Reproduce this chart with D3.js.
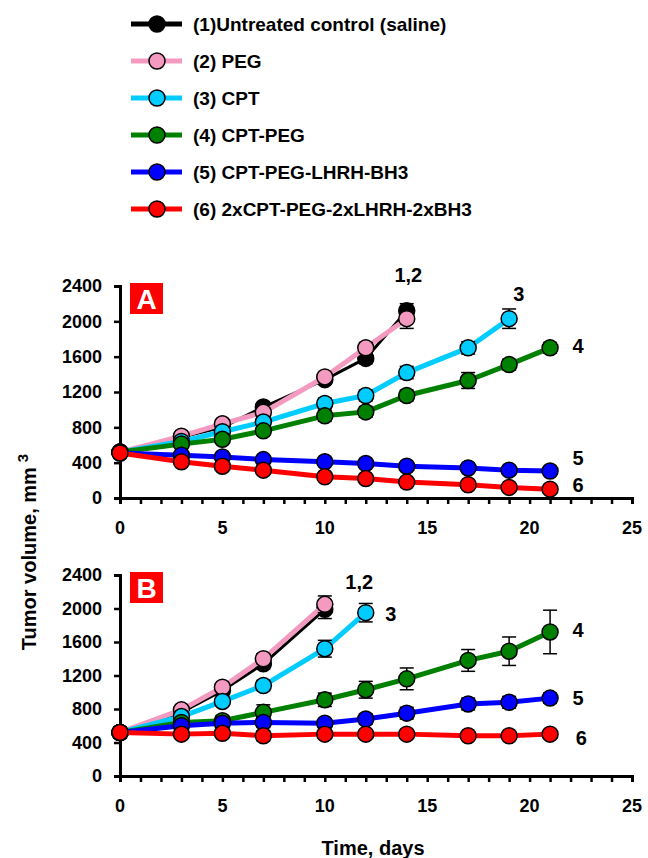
<!DOCTYPE html>
<html>
<head>
<meta charset="utf-8">
<script src="https://cdn.jsdelivr.net/npm/d3@7"></script>
<style>
  body { margin: 0; background: #fff; }
  svg text { font-family: "Liberation Sans", Arial, sans-serif; font-weight: bold; }
</style>
</head>
<body>
<svg id="chart" width="648" height="858"></svg>
<script>
// group names and colours
const groupNames = [
  "(1)Untreated control (saline)",
  "(2) PEG",
  "(3) CPT",
  "(4) CPT-PEG",
  "(5) CPT-PEG-LHRH-BH3",
  "(6) 2xCPT-PEG-2xLHRH-2xBH3"
];
const groupColors = ["#000000", "#f49ac1", "#00ccff", "#008000", "#0000ff", "#ff0000"];
const days = [0, 3, 5, 7, 10, 12, 14, 17, 19, 21];

// panel A values (mm3) and errors
const aValues = [
  [520, 690, 800, 1030, 1340, 1580, 2120],
  [520, 700, 840, 970, 1370, 1700, 2030],
  [520, 640, 750, 860, 1070, 1160, 1420, 1700, 2030],
  [520, 610, 665, 760, 930, 975, 1160, 1330, 1510, 1700],
  [510, 485, 465, 435, 410, 390, 360, 340, 315, 305],
  [510, 410, 360, 315, 240, 220, 180, 150, 120, 100]
];
const aErrors = [
  [30, 40, 40, 50, 50, 60, 80],
  [30, 40, 40, 50, 50, 60, 110],
  [30, 40, 40, 50, 60, 60, 70, 70, 110],
  [30, 40, 40, 50, 60, 60, 60, 90, 60, 60],
  [30, 30, 30, 30, 30, 30, 30, 30, 30, 30],
  [30, 30, 30, 30, 30, 30, 30, 30, 30, 30]
];

// panel B values (mm3) and errors
const bValues = [
  [520, 760, 1020, 1340, 1990],
  [520, 790, 1060, 1400, 2050],
  [520, 710, 890, 1080, 1520, 1950],
  [520, 640, 660, 760, 910, 1030, 1160, 1380, 1490, 1720],
  [520, 600, 630, 640, 630, 680, 750, 860, 880, 930],
  [520, 500, 510, 480, 500, 500, 500, 480, 480, 500]
];
const bErrors = [
  [60, 50, 50, 60, 110],
  [60, 50, 50, 60, 100],
  [60, 50, 50, 60, 100, 110],
  [60, 50, 60, 90, 80, 100, 130, 130, 170, 260],
  [60, 50, 50, 60, 50, 60, 70, 70, 70, 60],
  [60, 50, 50, 60, 50, 50, 50, 40, 40, 50]
];

const yTicks = [0, 400, 800, 1200, 1600, 2000, 2400];
const xTicks = [0, 5, 10, 15, 20, 25];

// end labels: [text, day, value]
const aLabels = [["1,2", 13.4, 2520], ["3", 19.2, 2310], ["4", 22.1, 1724], ["5", 22.1, 450], ["6", 22.1, 147]];
const bLabels = [["1,2", 11.0, 2316], ["3", 12.95, 1934], ["4", 22.1, 1743], ["5", 22.1, 931], ["6", 22.25, 454]];

const svg = d3.select("#chart");

const x = d3.scaleLinear().domain([0, 25]).range([120, 632]);

// legend
const legend = svg.append("g");
groupNames.forEach((name, i) => {
  const ly = 24 + i * 37;
  legend.append("line")
    .attr("x1", 131).attr("x2", 182).attr("y1", ly).attr("y2", ly)
    .attr("stroke", groupColors[i]).attr("stroke-width", 5);
  legend.append("circle")
    .attr("cx", 157).attr("cy", ly).attr("r", 8)
    .attr("fill", groupColors[i]).attr("stroke", "#000").attr("stroke-width", 1.5);
  legend.append("text")
    .attr("x", 193).attr("y", ly).attr("dy", "0.35em")
    .style("font-size", "19px").text(name);
});

function drawPanel(values, errors, labels, top, bottom, letter) {
  const y = d3.scaleLinear().domain([0, 2400]).range([bottom, top]);
  const g = svg.append("g");

  // axes
  g.append("g")
    .attr("transform", `translate(0,${bottom})`)
    .call(d3.axisBottom(x).tickValues(d3.range(0, 26)).tickSize(6).tickFormat(""))
    .call(a => a.select(".domain").attr("stroke-width", 3))
    .call(a => a.selectAll(".tick line").attr("stroke-width", 2.5));
  g.append("g")
    .attr("transform", `translate(0,${bottom})`)
    .selectAll("text").data(xTicks).join("text")
    .attr("x", d => x(d)).attr("y", 36)
    .attr("text-anchor", "middle").style("font-size", "18px")
    .text(d => d);

  g.append("g")
    .attr("transform", `translate(${x(0)},0)`)
    .call(d3.axisLeft(y).tickValues(yTicks).tickFormat(d3.format("d")).tickSize(6).tickPadding(12))
    .call(a => a.select(".domain").attr("stroke-width", 3))
    .call(a => a.selectAll(".tick line").attr("stroke-width", 2.5))
    .call(a => a.selectAll(".tick text").style("font-size", "18px").attr("font-family", null));

  // panel letter
  const box = g.append("g").attr("transform", `translate(130,${top - 3})`);
  box.append("rect").attr("width", 33).attr("height", 31).attr("fill", "#ff0000");
  box.append("text")
    .attr("x", 16.5).attr("y", 26)
    .attr("text-anchor", "middle").attr("fill", "#fff")
    .style("font-size", "28px").text(letter);

  const line = d3.line().x(d => x(d.day)).y(d => y(d.v));

  values.forEach((vals, i) => {
    const pts = vals.map((v, j) => ({ day: days[j], v, e: errors[i][j] }));
    const sg = g.append("g");
    sg.append("path")
      .datum(pts)
      .attr("d", line)
      .attr("fill", "none")
      .attr("stroke", groupColors[i])
      .attr("stroke-width", i === 0 ? 3 : 5)
      .attr("stroke-linejoin", "round");
    // error bars
    sg.selectAll("line.err").data(pts).join("line")
      .attr("x1", d => x(d.day)).attr("x2", d => x(d.day))
      .attr("y1", d => y(d.v - d.e)).attr("y2", d => y(d.v + d.e))
      .attr("stroke", "#000").attr("stroke-width", 1.5);
    ["lo", "hi"].forEach(k => {
      sg.selectAll(`line.cap-${k}`).data(pts).join("line")
        .attr("x1", d => x(d.day) - 7).attr("x2", d => x(d.day) + 7)
        .attr("y1", d => y(k === "lo" ? d.v - d.e : d.v + d.e))
        .attr("y2", d => y(k === "lo" ? d.v - d.e : d.v + d.e))
        .attr("stroke", "#000").attr("stroke-width", 1.5);
    });
    sg.selectAll("circle").data(pts).join("circle")
      .attr("cx", d => x(d.day)).attr("cy", d => y(d.v)).attr("r", 8)
      .attr("fill", groupColors[i]).attr("stroke", "#000").attr("stroke-width", 1.5);
  });

  g.selectAll("text.lab").data(labels).join("text")
    .attr("class", "lab")
    .attr("x", d => x(d[1])).attr("y", d => y(d[2])).attr("dy", "0.35em")
    .attr("text-anchor", "start")
    .style("font-size", "20px")
    .text(d => d[0]);
}

drawPanel(aValues, aErrors, aLabels, 286, 498, "A");
drawPanel(bValues, bErrors, bLabels, 575, 776, "B");

// axis titles
svg.append("text")
  .attr("transform", "translate(36,552) rotate(-90)")
  .attr("text-anchor", "middle")
  .style("font-size", "20px")
  .text("Tumor volume, mm")
  .append("tspan").attr("dx", 5).attr("dy", -8).style("font-size", "15px").text("3");

svg.append("text")
  .attr("x", 373).attr("y", 855)
  .attr("text-anchor", "middle")
  .style("font-size", "20px")
  .text("Time, days");
</script>
</body>
</html>
